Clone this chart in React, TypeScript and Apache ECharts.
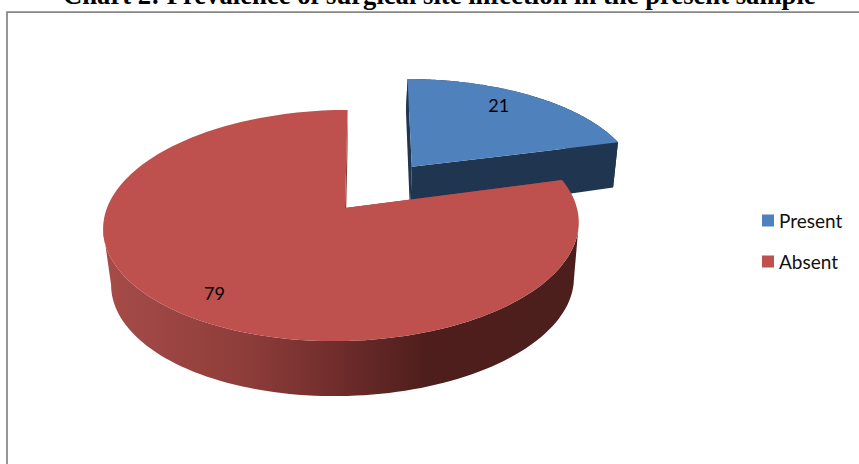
import React, { useEffect, useRef } from "react";
import * as echarts from "echarts";

const categories = ["Present", "Absent"];
const values = [21, 79];
const titleText = "Chart 2: Prevalence of surgical site infection in the present sample";
const topColors = ["#4F81BD", "#BE504E"];
const wallColors = ["#1F3550", "#8A3C3A"];
const explode = [0.485, 0];
const widthFactor = [1.02, 1];
const shear = [0.008, 0];
const labelRadius = [0.74, 0.8];
const labelNudge = [[-4, -8], [0, 5]];

// view of the tilted disc
const CX = 345, CY = 208, RX = 235, RY = 112.9, K = 0.1515, J = -0.015, SKEW = 3, TILT = -1.5;
const DEPTH = 56, DEPTH_BACK = 17, BASE_SCALE = 0.973, BASE_DX = 1.5;

type Pt = [number, number];
const perspective = (u: number, v: number) => 1 / (1 - K * v - J * u);
const projectTop = (u: number, v: number): Pt => {
  const s = perspective(u, v);
  return [CX + (RX * u - SKEW * v) * s, CY + (RY * v + TILT * u) * s];
};
const projectBase = (u: number, v: number): Pt => {
  const p = projectTop(u, v);
  const depth = v >= 0 ? DEPTH - v : DEPTH + DEPTH_BACK * v;
  return [CX + BASE_DX * u * u + (p[0] - CX) * BASE_SCALE, p[1] + depth];
};

const total = values.reduce((a, b) => a + b, 0);

function renderSlice(index: number) {
  return (_params: any, api: any) => {
    const value = api.value(0) as number;
    const before = values.slice(0, index).reduce((a, b) => a + b, 0);
    const a0 = (before / total) * Math.PI * 2;
    const a1 = a0 + (value / total) * Math.PI * 2;
    const mid = (a0 + a1) / 2;
    const ou = explode[index] * Math.sin(mid);
    const ov = -explode[index] * Math.cos(mid);
    const disc = (a: number, r = 1): Pt => [
      ou + widthFactor[index] * r * Math.sin(a) + shear[index] * r * Math.cos(a),
      ov - r * Math.cos(a),
    ];
    const steps = 160;
    const arc: Pt[] = [];
    for (let i = 0; i <= steps; i++) arc.push(disc(a0 + ((a1 - a0) * i) / steps));
    const top = (p: Pt) => projectTop(p[0], p[1]);
    const base = (p: Pt) => projectBase(p[0], p[1]);
    const apex: Pt = [ou, ov];
    const radialWall = (a: number) => {
      const rim = disc(a);
      return {
        type: "polygon",
        shape: { points: [top(apex), top(rim), base(rim), base(apex)] },
        style: { fill: wallColors[index] },
      };
    };
    // the rim between its right-most and left-most points is what faces the viewer
    const xs = arc.map((p) => top(p)[0]);
    const iMax = xs.indexOf(Math.max(...xs));
    const iMin = xs.indexOf(Math.min(...xs));
    const front = arc.slice(Math.min(iMax, iMin), Math.max(iMax, iMin) + 1);
    const outerFill =
      index === 1
        ? new echarts.graphic.LinearGradient(0, 0, 1, 0, [
            { offset: 0, color: "#A64C49" },
            { offset: 0.3, color: "#8E3D3A" },
            { offset: 0.5, color: "#6E2C2B" },
            { offset: 0.68, color: "#4E1E1C" },
            { offset: 1, color: "#4C1E1C" },
          ])
        : wallColors[index];
    const labPt = top(disc(mid, labelRadius[index]));
    return {
      type: "group",
      children: [
        radialWall(a0),
        radialWall(a1),
        {
          type: "polygon",
          shape: { points: [...front.map(top), ...front.slice().reverse().map(base)] },
          style: { fill: outerFill },
        },
        {
          type: "polygon",
          shape: { points: [top(apex), ...arc.map(top)] },
          style: { fill: topColors[index] },
        },
        {
          type: "text",
          x: labPt[0] + labelNudge[index][0],
          y: labPt[1] + labelNudge[index][1],
          style: {
            text: String(value),
            fill: "#000000",
            font: "18px Lato",
            align: "center",
            verticalAlign: "middle",
          },
        },
      ],
    };
  };
}

export default function App() {
  const ref = useRef<HTMLDivElement>(null);
  useEffect(() => {
    document.body.style.margin = "0";
    const chart = echarts.init(ref.current!, undefined, { renderer: "svg" });
    chart.setOption({
      animation: false,
      backgroundColor: "#FFFFFF",
      title: {
        text: titleText,
        left: 63,
        top: -19,
        padding: 0,
        textStyle: {
          fontFamily: "Liberation Serif",
          fontWeight: "bold",
          fontSize: 26.67,
          color: "#000000",
        },
      },
      legend: {
        orient: "vertical",
        left: 757,
        top: 206,
        itemWidth: 12,
        itemHeight: 12,
        itemGap: 22,
        selectedMode: false,
        icon: "rect",
        data: categories,
        textStyle: { fontFamily: "Lato", fontSize: 19, color: "#111111" },
      },
      graphic: [
        {
          type: "polyline",
          silent: true,
          shape: { points: [[7, 464], [7, 12], [859, 12]] },
          style: { stroke: "#888888", lineWidth: 1.75, fill: "none" },
        },
      ],
      series: categories.map((name, i) => ({
        type: "custom",
        name,
        coordinateSystem: "none",
        silent: true,
        itemStyle: { color: topColors[i] },
        renderItem: renderSlice(i),
        data: [[values[i]]],
      })),
    });
    return () => chart.dispose();
  }, []);
  return <div ref={ref} style={{ width: 859, height: 464 }} />;
}
